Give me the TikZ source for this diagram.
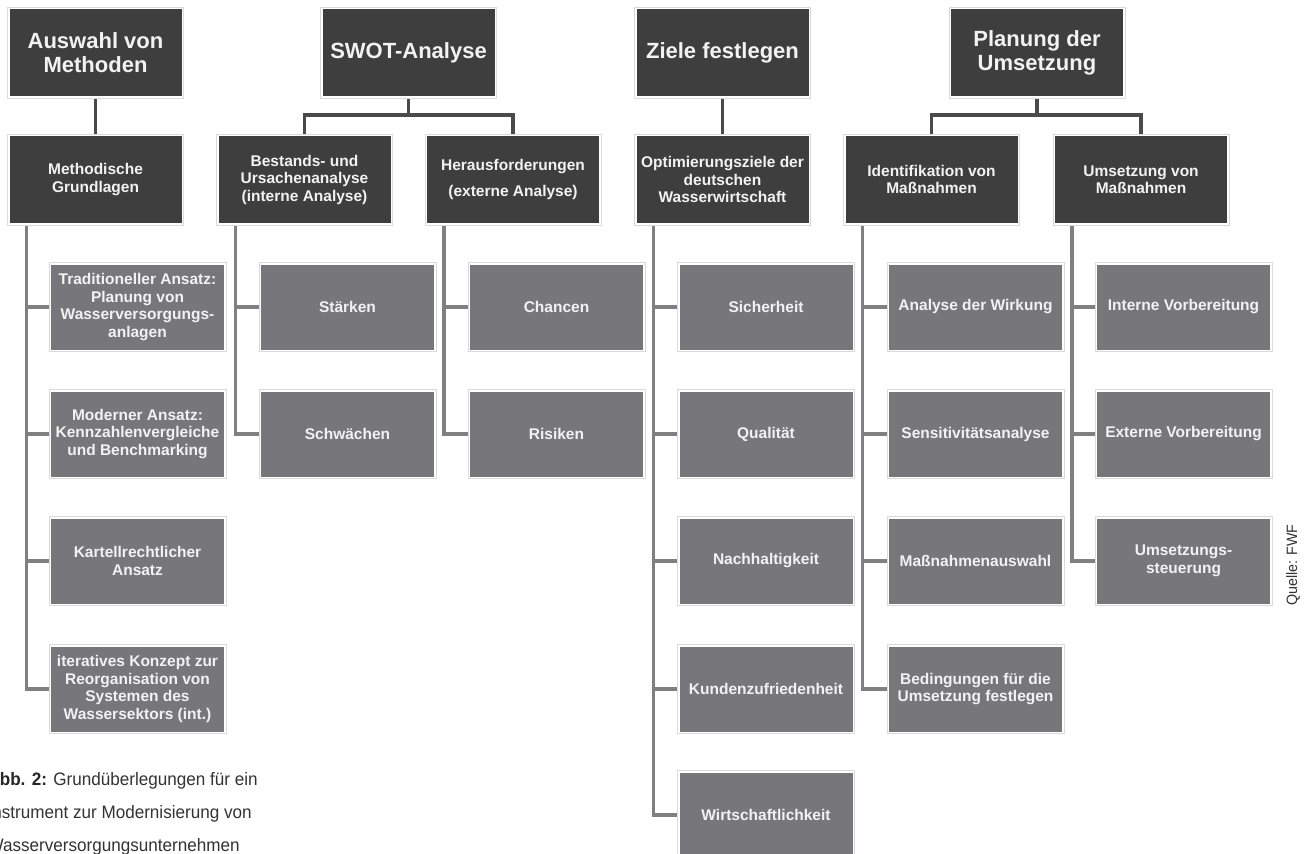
\documentclass[tikz,border=0pt]{standalone}
\usepackage{fontspec}
\setmainfont{Liberation Sans}
\newfontfamily\capfont[FakeStretch=0.95]{Liberation Sans}
\usetikzlibrary{backgrounds,calc}
\definecolor{darkfill}{HTML}{3E3E3E}
\definecolor{leaffill}{HTML}{77777B}
\definecolor{halo}{HTML}{DADADA}
\definecolor{topline}{HTML}{4A4A4A}
\definecolor{trunkline}{HTML}{808080}
\definecolor{boxtext}{HTML}{F2F2F2}
\definecolor{captext}{HTML}{333333}
\begin{document}
\begin{tikzpicture}[x=1pt,y=-1pt,
  framed/.style={rectangle, inner sep=0pt, align=center, text=boxtext,
    preaction={draw=halo, line width=5pt},
    preaction={draw=white, line width=3pt}},
  headbox/.style={framed, fill=darkfill, minimum width=172pt, minimum height=87pt,
    font=\bfseries\fontsize{22}{24}\selectfont},
  midbox/.style={framed, fill=darkfill, minimum width=172pt, minimum height=87pt,
    font=\bfseries\fontsize{15.5}{17.5}\selectfont},
  leafnode/.style={framed, fill=leaffill, minimum width=173pt, minimum height=85pt,
    font=\bfseries\fontsize{15.5}{17.5}\selectfont},
  topconn/.style={draw=topline, line width=3.5pt},
  trunk/.style={draw=trunkline, line width=3.5pt},
  captxt/.style={inner sep=0pt, anchor=base west, text=captext,
    font=\capfont\fontsize{18}{20}\selectfont},
]
\useasboundingbox (0,0) rectangle (1307,854);
\clip (0,0) rectangle (1307,854);

% top row
\node[headbox] (h1) at (95.5,52.5) {Auswahl von\\Methoden};
\node[headbox] (h2) at (408.5,52.5) {SWOT-Analyse};
\node[headbox] (h3) at (722.5,52.5) {Ziele festlegen};
\node[headbox] (h4) at (1037,52.5) {Planung der\\Umsetzung};

% middle row
\node[midbox] (m1) at (95.5,179.5) {Methodische\\Grundlagen};
\node[midbox] (m2) at (304.5,179.5) {Bestands- und\\Ursachenanalyse\\(interne Analyse)};
\node[midbox] (m3) at (513,179.5) {Herausforderungen\\[8pt](externe Analyse)};
\node[midbox] (m4) at (722.5,179.5) {Optimierungsziele der\\deutschen\\Wasserwirtschaft};
\node[midbox] (m5) at (931.5,179.5) {Identifikation von\\Maßnahmen};
\node[midbox] (m6) at (1141,179.5) {Umsetzung von\\Maßnahmen};

% leaves
\node[leafnode] (l11) at (137.5,307) {Traditioneller Ansatz:\\Planung von\\Wasserversorgungs-\\anlagen};
\node[leafnode] (l12) at (137.5,434) {Moderner Ansatz:\\Kennzahlenvergleiche\\und Benchmarking};
\node[leafnode] (l13) at (137.5,561) {Kartellrechtlicher\\Ansatz};
\node[leafnode] (l14) at (137.5,689) {iteratives Konzept zur\\Reorganisation von\\Systemen des\\Wassersektors (int.)};

\node[leafnode] (l21) at (347.5,307) {Stärken};
\node[leafnode] (l22) at (347.5,434) {Schwächen};

\node[leafnode] (l31) at (556.5,307) {Chancen};
\node[leafnode] (l32) at (556.5,434) {Risiken};

\node[leafnode] (l41) at (766,307) {Sicherheit};
\node[leafnode] (l42) at (766,434) {Qualität};
\node[leafnode] (l43) at (766,561) {Nachhaltigkeit};
\node[leafnode] (l44) at (766,689) {Kundenzufriedenheit};
\node[leafnode] (l45) at (766,815) {Wirtschaftlichkeit};

\node[leafnode] (l51) at (975.5,307) {Analyse der Wirkung};
\node[leafnode] (l52) at (975.5,434) {Sensitivitätsanalyse};
\node[leafnode] (l53) at (975.5,561) {Maßnahmenauswahl};
\node[leafnode] (l54) at (975.5,689) {Bedingungen für die\\Umsetzung festlegen};

\node[leafnode] (l61) at (1183.5,307) {Interne Vorbereitung};
\node[leafnode] (l62) at (1183.5,434) {Externe Vorbereitung};
\node[leafnode] (l63) at (1183.5,561) {Umsetzungs-\\steuerung};

% caption and source
\node[captxt] (cap1) at (-12.7,785) {\textbf{\color{black!85}Abb. 2:} Grundüberlegungen für ein};
\node[captxt] (cap2) at (-12.7,818) {Instrument zur Modernisierung von};
\node[captxt] (cap3) at (-12.7,851) {Wasserversorgungsunternehmen};
\node[inner sep=0pt, rotate=90, text=captext, font=\capfont\fontsize{15}{17}\selectfont] (src) at (1293,565) {Quelle: FWF};

% connectors
\begin{pgfonlayer}{background}
  \fill[white] (0,0) rectangle (1307,854);
  \draw[topconn] (h1.south) -- (m1.north);
  \draw[topconn] (h2.south) -- ++(0,19) -| (m2.north);
  \draw[topconn] (h2.south) -- ++(0,19) -| (m3.north);
  \draw[topconn] (h3.south) -- (m4.north);
  \draw[topconn] (h4.south) -- ++(0,19) -| (m5.north);
  \draw[topconn] (h4.south) -- ++(0,19) -| (m6.north);
  \foreach \p/\l in {m1/l11,m1/l12,m1/l13,m1/l14,m2/l21,m2/l22,m3/l31,m3/l32,
      m4/l41,m4/l42,m4/l43,m4/l44,m4/l45,m5/l51,m5/l52,m5/l53,m5/l54,
      m6/l61,m6/l62,m6/l63}
    \draw[trunk] ($(\p.south west)+(17,0)$) |- (\l.west);
\end{pgfonlayer}
\end{tikzpicture}
\end{document}
